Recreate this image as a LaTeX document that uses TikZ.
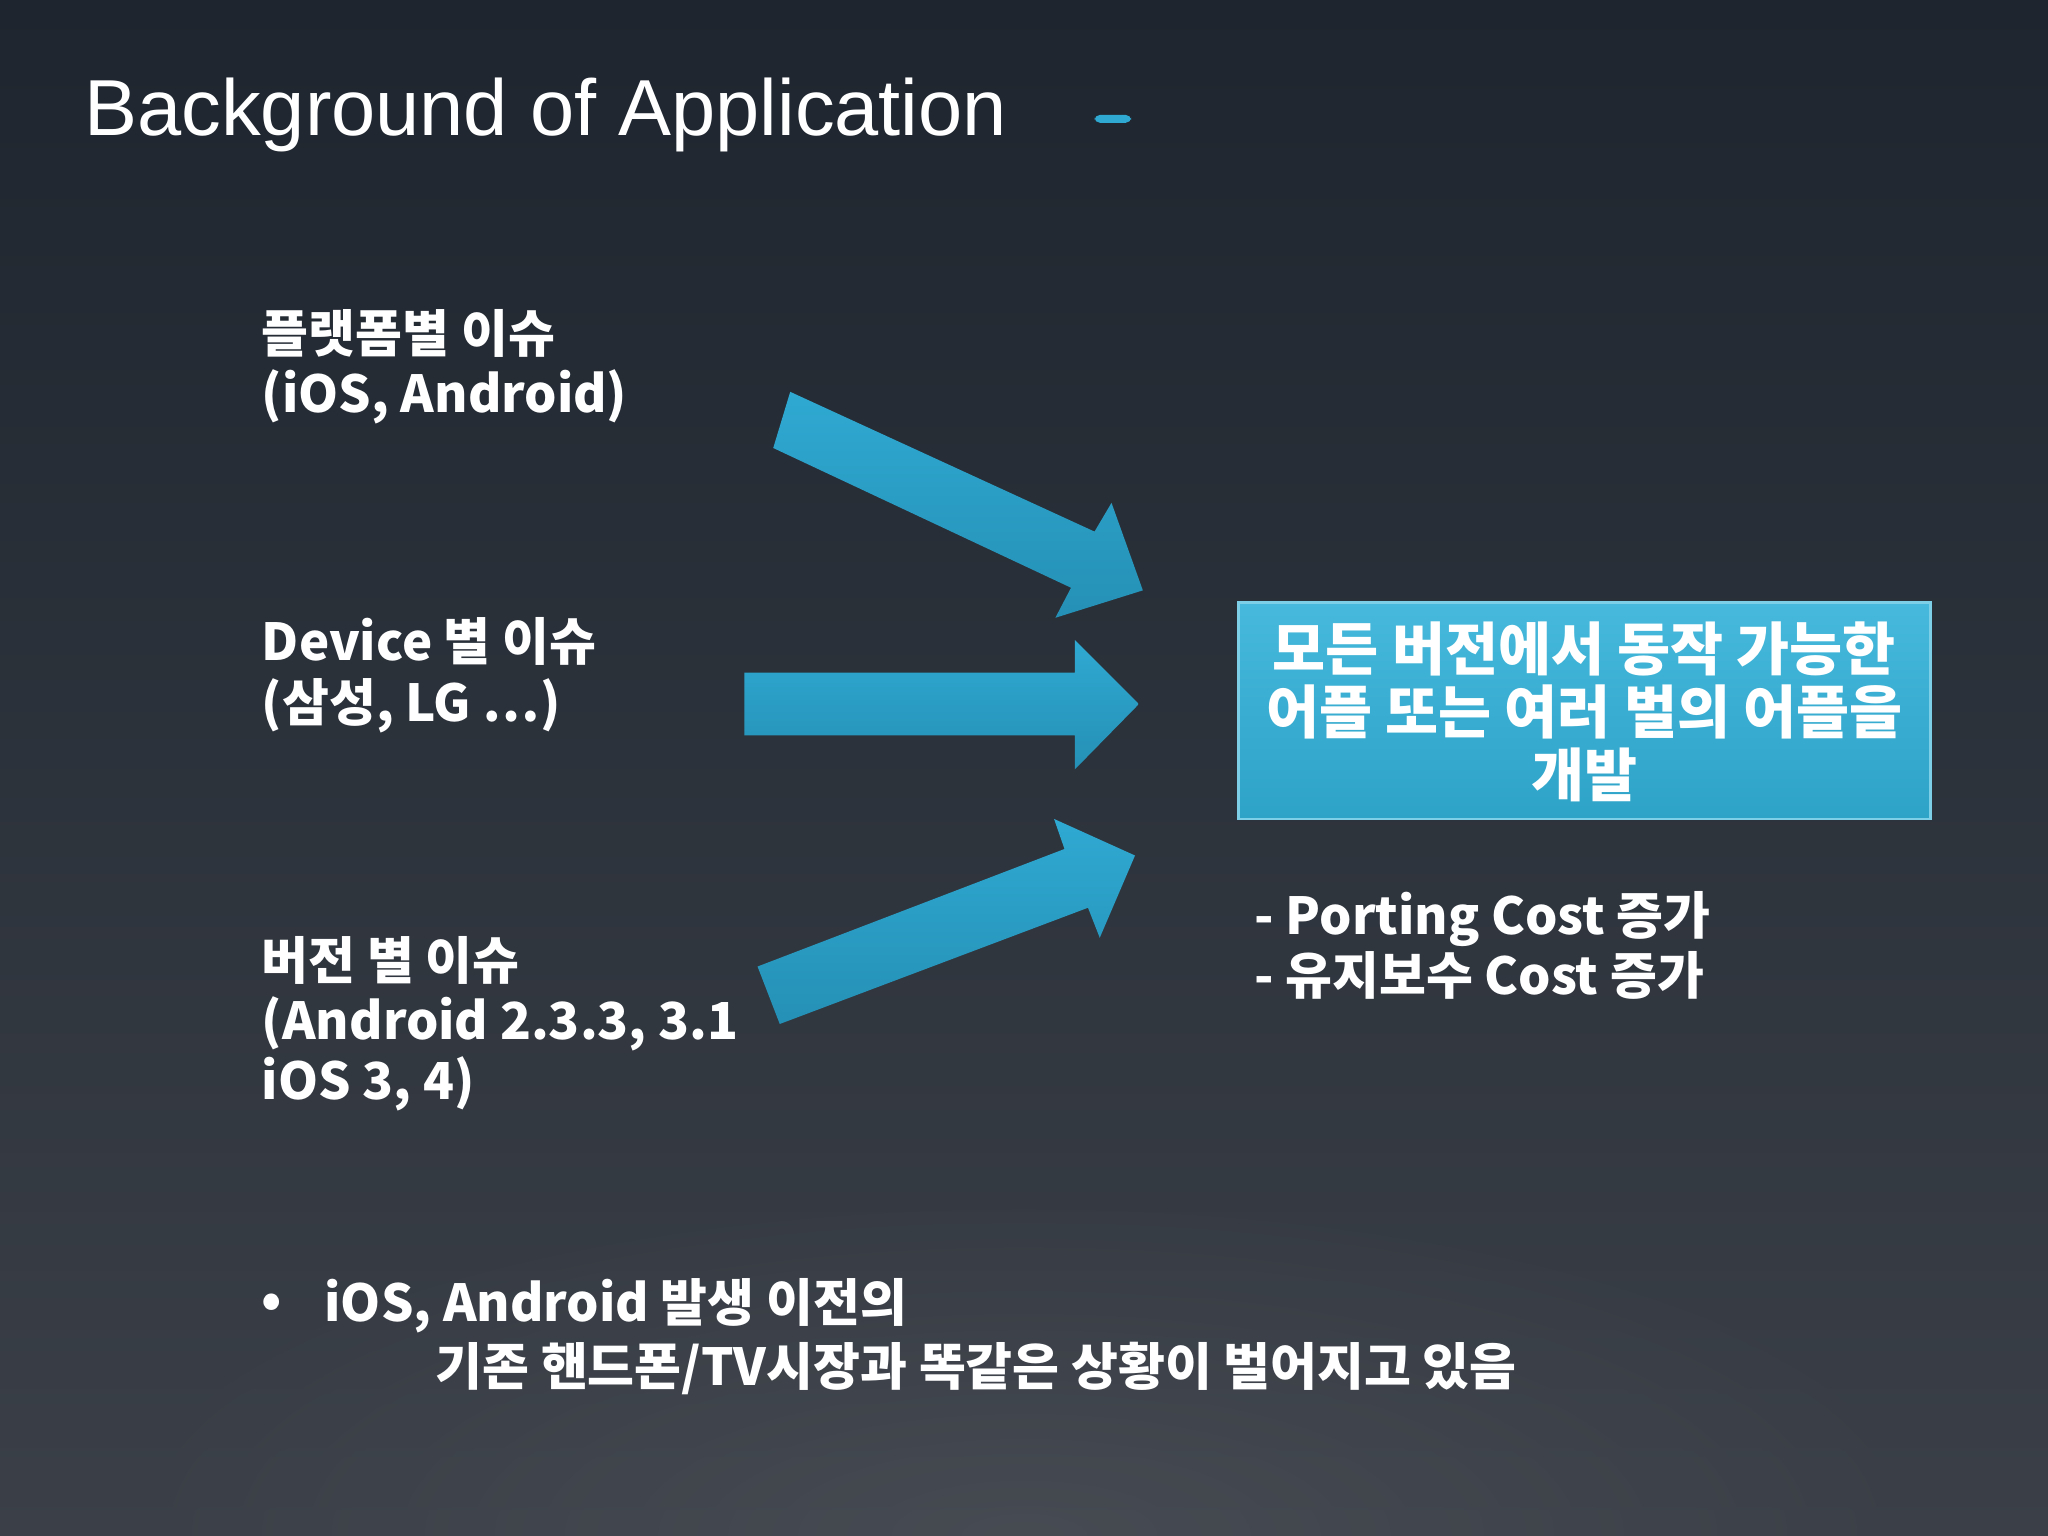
\documentclass[tikz,border=0pt]{standalone}
\usepackage{fontspec}
\setmainfont{Noto Sans CJK KR}
\newfontfamily\titlefont{Liberation Sans}
\usetikzlibrary{shadings}
\definecolor{bgtop}{HTML}{1E252E}
\definecolor{bgbot}{HTML}{3B4048}
\definecolor{arrowc}{HTML}{2FA9D2}
\definecolor{arrowd}{HTML}{2590B5}
\definecolor{boxc}{HTML}{2EA3C8}
\definecolor{boxl}{HTML}{46B9DC}
\tikzset{
  bodytxt/.style={text=white,font=\bfseries\fontsize{14.5}{17.1}\selectfont,align=left,inner sep=0pt},
  blockarrow/.style={top color=arrowc,bottom color=arrowd,draw=none},
}
\begin{document}
\begin{tikzpicture}[x=0.013061cm,y=-0.013061cm]
\useasboundingbox (0,0) rectangle (1568,1176);
\begin{scope}
\clip (0,0) rectangle (1568,1176);
\shade[top color=bgtop,bottom color=bgbot] (0,0) rectangle (1568,1176);
\shade[inner color=bgbot!80!white,outer color=bgbot,opacity=0.3] (784,1176) ellipse (700 and 250);
\end{scope}
\node[anchor=west,text=white,inner sep=0pt,font=\titlefont\fontsize{22.6}{26}\selectfont] (title) at (64,88) {Background of Application};
\fill[arrowc,rounded corners=1.5] (838,88) rectangle (866,94);
\node[bodytxt,anchor=west] (t1) at (200,281) {플랫폼별 이슈\\(iOS, Android)};
\node[bodytxt,anchor=west] (t2) at (200,517) {Device 별 이슈\\(삼성, LG …)};
\node[bodytxt,anchor=west] (t3) at (200,784) {버전 별 이슈\\(Android 2.3.3, 3.1\\iOS 3, 4)};
\shade[blockarrow] (605,300) -- (838,407) -- (851,385) -- (875,452) -- (808,473) -- (820,450) -- (592,343) -- cycle;
\shade[blockarrow] (570,515) -- (823,515) -- (823,490) -- (872,539) -- (823,589) -- (823,563) -- (570,563) -- cycle;
\shade[blockarrow] (580,740) -- (815,650) -- (807,627) -- (869,655) -- (842,718) -- (833,695) -- (597,784) -- cycle;
\shade[top color=boxl,bottom color=boxc] (948,461) rectangle (1478,627);
\draw[boxl!70!white,line width=0.8pt] (948,461) rectangle (1478,627);
\node[text=white,font=\bfseries\fontsize{16.4}{17.8}\selectfont,align=center,inner sep=0pt] (box) at (1213,545) {모든 버전에서 동작 가능한\\어플 또는 여러 벌의 어플을\\개발};
\node[bodytxt,anchor=west] (cost) at (960,724) {- Porting Cost 증가\\- 유지보수 Cost 증가};
\node[bodytxt,anchor=west] (bul) at (200,1000) {•};
\node[bodytxt,anchor=west] (b1) at (248,1000) {iOS, Android 발생 이전의};
\node[bodytxt,anchor=west] (b2) at (333,1048) {기존 핸드폰/TV시장과 똑같은 상황이 벌어지고 있음};
\end{tikzpicture}
\end{document}
